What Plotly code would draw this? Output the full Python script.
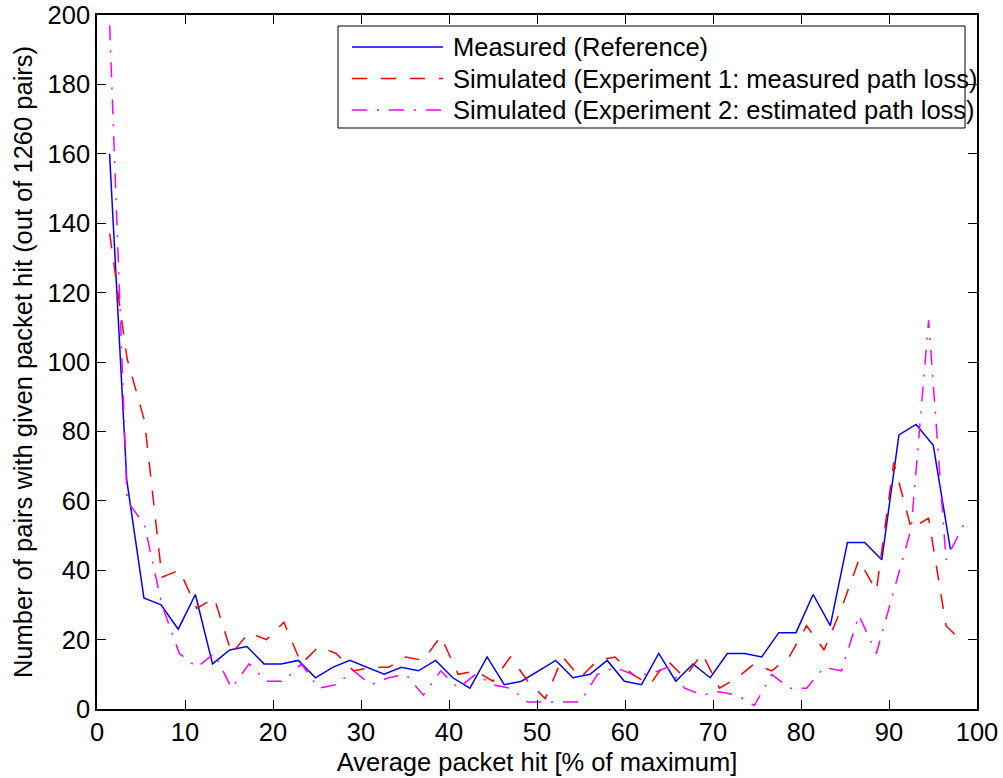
import plotly.graph_objects as go

# Bin centres [% of maximum]
x_measured = [1.43, 3.38, 5.33, 7.28, 9.23, 11.18, 13.13, 15.08, 17.03, 18.98,
              20.93, 22.88, 24.83, 26.78, 28.73, 30.68, 32.63, 34.58, 36.53, 38.48,
              40.43, 42.38, 44.33, 46.28, 48.23, 50.18, 52.13, 54.08, 56.03, 57.98,
              59.93, 61.88, 63.83, 65.78, 67.73, 69.68, 71.63, 73.58, 75.53, 77.48,
              79.43, 81.38, 83.33, 85.28, 87.23, 89.18, 91.13, 93.08, 95.03, 96.98]
x_simulated = [1.44, 3.42, 5.40, 7.38, 9.36, 11.34, 13.32, 15.30, 17.28, 19.26,
               21.24, 23.22, 25.20, 27.18, 29.16, 31.14, 33.12, 35.10, 37.08, 39.06,
               41.04, 43.02, 45.00, 46.98, 48.96, 50.94, 52.92, 54.90, 56.88, 58.86,
               60.84, 62.82, 64.80, 66.78, 68.76, 70.74, 72.72, 74.70, 76.68, 78.66,
               80.64, 82.62, 84.60, 86.58, 88.56, 90.54, 92.52, 94.50, 96.48, 98.46]

# Number of pairs per bin
measured = [160, 66, 32, 30, 23, 33, 13, 17, 18, 13,
            13, 14, 9, 12, 14, 12, 10, 12, 11, 14,
            9, 6, 15, 7, 8, 11, 14, 9, 10, 14,
            8, 7, 16, 8, 13, 9, 16, 16, 15, 22,
            22, 33, 24, 48, 48, 43, 79, 82, 76, 46]
sim_exp1 = [137, 101, 83, 38, 40, 29, 32, 16, 22, 20,
            25, 13, 18, 16, 11, 12, 12, 15, 14, 21,
            10, 11, 8, 15, 8, 3, 15, 9, 14, 15,
            10, 7, 14, 9, 16, 6, 9, 13, 11, 15,
            24, 17, 29, 43, 34, 71, 52, 55, 24, 19]
sim_exp2 = [197, 60, 53, 30, 16, 12, 16, 6, 13, 8,
            8, 13, 6, 7, 11, 7, 9, 10, 4, 11,
            6, 10, 7, 6, 2, 2, 2, 2, 10, 12,
            10, 10, 12, 6, 4, 5, 4, 1, 10, 6,
            6, 12, 11, 27, 16, 34, 52, 112, 43, 53]

names = ["Measured (Reference)",
         "Simulated (Experiment 1: measured path loss)",
         "Simulated (Experiment 2: estimated path loss)"]

x_ticks = list(range(0, 101, 10))
y_ticks = list(range(0, 201, 20))

FONT = "Liberation Sans, Arial, Helvetica, sans-serif"
FSIZE = 25.5

styles = [
    dict(color="#0000ff", width=1.5, dash="solid"),
    dict(color="#ff0000", width=1.5, dash="15px,14px"),
    dict(color="#ff00ff", width=1.5, dash="15px,10px,2px,10px"),
]

fig = go.Figure()
for xs, ys, name, st in zip([x_measured, x_simulated, x_simulated],
                            [measured, sim_exp1, sim_exp2], names, styles):
    fig.add_trace(go.Scatter(x=xs, y=ys, mode="lines", name=name,
                             line=st, showlegend=False))

axis_common = dict(
    showline=True, linecolor="black", linewidth=1.5, mirror="ticks",
    ticks="inside", ticklen=9, tickwidth=1, tickcolor="black",
    showgrid=False, zeroline=False,
    tickfont=dict(family=FONT, size=FSIZE, color="black"),
)

fig.update_xaxes(range=[0, 100], tickvals=x_ticks, ticktext=[str(v) for v in x_ticks],
                 title=dict(text="Average packet hit [% of maximum]", standoff=8,
                            font=dict(family=FONT, size=FSIZE, color="black")),
                 **axis_common)
fig.update_yaxes(range=[0, 200], tickvals=y_ticks, ticktext=[str(v) for v in y_ticks],
                 title=dict(text="Number of pairs with given packet hit (out of 1260 pairs)",
                            standoff=8, font=dict(family=FONT, size=FSIZE, color="black")),
                 **axis_common)

# Boxed legend in the upper part of the axes (paper coordinates)
PLOT_L, PLOT_R, PLOT_T, PLOT_B = 97, 977, 15, 709


def px_x(p):
    return (p - PLOT_L) / (PLOT_R - PLOT_L)


def px_y(p):
    return (PLOT_B - p) / (PLOT_B - PLOT_T)


shapes = [dict(type="rect", xref="paper", yref="paper",
               x0=px_x(338), x1=px_x(965), y0=px_y(128), y1=px_y(26),
               line=dict(color="black", width=1), fillcolor="white", layer="above")]
annotations = []
for i, (name, st) in enumerate(zip(names, styles)):
    yc = px_y(47 + 31.5 * i)
    shapes.append(dict(type="line", xref="paper", yref="paper",
                       x0=px_x(352), x1=px_x(443), y0=yc, y1=yc,
                       line=st, layer="above"))
    annotations.append(dict(text=name, xref="paper", yref="paper",
                            x=px_x(451), y=yc, xanchor="left", yanchor="middle",
                            showarrow=False,
                            font=dict(family=FONT, size=FSIZE, color="black")))

fig.update_layout(
    width=1003, height=778,
    margin=dict(l=97, r=26, t=15, b=69, autoexpand=False),
    paper_bgcolor="white", plot_bgcolor="white",
    font=dict(family=FONT, size=FSIZE, color="black"),
    shapes=shapes, annotations=annotations,
    showlegend=False,
)

fig.write_html("out.html")
